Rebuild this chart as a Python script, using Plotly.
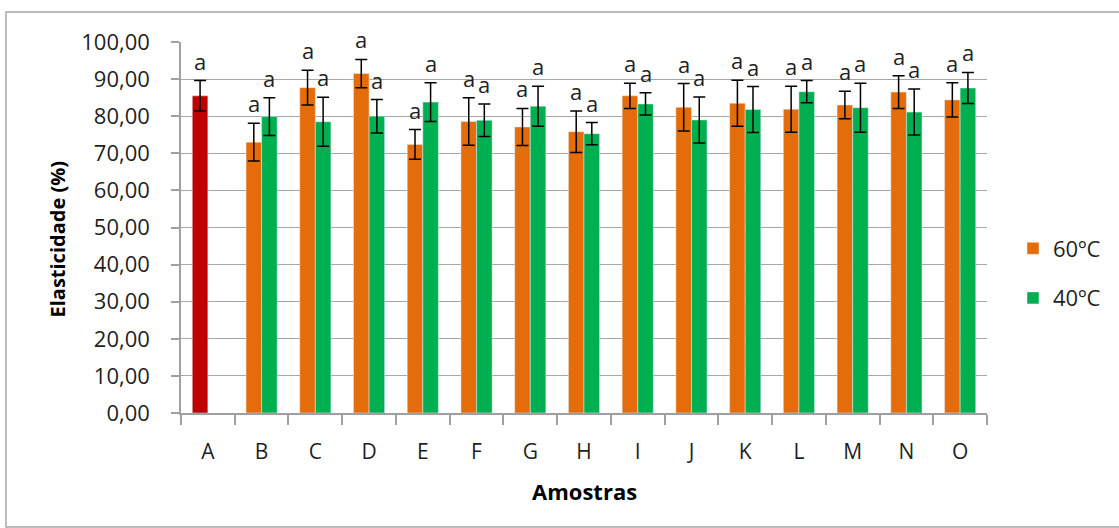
import plotly.graph_objects as go

# Samples on the x axis
categories = ["A", "B", "C", "D", "E", "F", "G", "H", "I", "J", "K", "L", "M", "N", "O"]

# Control sample (A)
control_cat = ["A"]
control_val = [85.5]
control_err = [4.1]

# Samples dried at 60 ºC (B..O)
t60_cats = categories[1:]
t60_val = [73.0, 87.7, 91.5, 72.4, 78.6, 77.1, 75.8, 85.5, 82.4, 83.5, 81.9, 83.0, 86.5, 84.4]
t60_err = [5.1, 4.7, 3.8, 4.0, 6.4, 5.0, 5.6, 3.4, 6.4, 6.2, 6.2, 3.7, 4.4, 4.6]

# Samples dried at 40 ºC (B..O)
t40_cats = categories[1:]
t40_val = [79.9, 78.5, 80.0, 83.8, 78.9, 82.7, 75.3, 83.3, 79.0, 81.8, 86.6, 82.3, 81.1, 87.6]
t40_err = [5.1, 6.6, 4.5, 5.2, 4.4, 5.4, 3.0, 3.0, 6.2, 6.2, 3.0, 6.6, 6.2, 4.2]

# Significance letters
control_letters = ["a"]
t60_letters = ["a"] * 14
t40_letters = ["a"] * 14

ORANGE = "#E46C0A"
GREEN = "#00B050"
RED = "#C00000"
FONT = "Open Sans"
TXT = "#1f1f1f"

W, H = 1119, 528
L, R, T, B = 181, 132, 42, 115

err_style = dict(type="data", visible=True, color="#000000", thickness=1.5, width=6)

fig = go.Figure()
fig.add_trace(go.Bar(
    x=t60_cats, y=t60_val, name="60ºC", marker_color=ORANGE, offsetgroup="60",
    legendgroup="g60", error_y=dict(array=t60_err, **err_style),
))
fig.add_trace(go.Bar(
    x=t40_cats, y=t40_val, name="40ºC", marker_color=GREEN, offsetgroup="40",
    legendgroup="g40", error_y=dict(array=t40_err, **err_style),
))
fig.add_trace(go.Bar(
    x=control_cat, y=control_val, name="Controle", marker_color=RED, offsetgroup="60",
    legendgroup="ctrl", showlegend=False, error_y=dict(array=control_err, **err_style),
))

# Letters above the error bars
plot_w = W - L - R
plot_h = H - T - B
bar_px = plot_w / len(categories) * (1 - 0.42) / 2
ann = []
def add_letters(cats, vals, errs, letters, shift):
    for c, v, e, t in zip(cats, vals, errs, letters):
        ann.append(dict(x=c, y=v + e, text=t, showarrow=False, xshift=shift,
                        yanchor="bottom", yshift=3,
                        font=dict(family=FONT, size=22, color=TXT)))
add_letters(control_cat, control_val, control_err, control_letters, -bar_px / 2)
add_letters(t60_cats, t60_val, t60_err, t60_letters, -bar_px / 2)
add_letters(t40_cats, t40_val, t40_err, t40_letters, bar_px / 2)

# Axis titles
ann.append(dict(x=0.5, y=0, xref="paper", yref="paper", text="<b>Amostras</b>",
                showarrow=False, yanchor="middle", yshift=-78,
                font=dict(family=FONT, size=22, color="#000000")))
ann.append(dict(x=0, y=0.5, xref="paper", yref="paper", text="<b>Elasticidade (%)</b>",
                showarrow=False, textangle=-90, xanchor="center", xshift=-124, yshift=-12,
                font=dict(family=FONT, size=20, color="#000000")))

# Outer chart frame (left, top and bottom edges visible)
shapes = [dict(type="rect", xref="paper", yref="paper",
               x0=(6 - L) / plot_w, x1=(W + 60 - L) / plot_w,
               y0=-(H - 1 - (H - B)) / plot_h, y1=1 + (T - 12) / plot_h,
               line=dict(color="#a6a6a6", width=1.5), layer="below")]

fig.update_layout(
    width=W, height=H,
    margin=dict(l=L, r=R, t=T, b=B, pad=0),
    paper_bgcolor="white", plot_bgcolor="white",
    barmode="group", bargap=0.42, bargroupgap=0,
    separators=", ",
    font=dict(family=FONT, size=22, color=TXT),
    annotations=ann, shapes=shapes,
    legend=dict(x=(1013 - L) / plot_w, xanchor="left",
                y=(H - B - 273.5) / plot_h, yanchor="middle",
                font=dict(family=FONT, size=22, color=TXT),
                tracegroupgap=18, traceorder="grouped", bgcolor="rgba(0,0,0,0)"),
)
fig.update_xaxes(
    type="category", categoryorder="array", categoryarray=categories,
    showline=True, linecolor="#a0a0a0", linewidth=1.5,
    ticks="outside", tickson="boundaries", ticklen=10, tickcolor="#a0a0a0", tickwidth=1.5,
    ticklabelstandoff=19, showgrid=False,
    tickfont=dict(family=FONT, size=21, color=TXT),
)
fig.update_yaxes(
    range=[0, 100], dtick=10, tickformat=".2f",
    showline=True, linecolor="#a0a0a0", linewidth=1.5,
    ticks="outside", ticklen=8, tickcolor="#a0a0a0", tickwidth=1.5,
    ticklabelstandoff=17,
    showgrid=True, gridcolor="#a6a6a6", gridwidth=1, zeroline=False,
    tickfont=dict(family=FONT, size=22, color=TXT),
)

fig.write_html("out.html")
